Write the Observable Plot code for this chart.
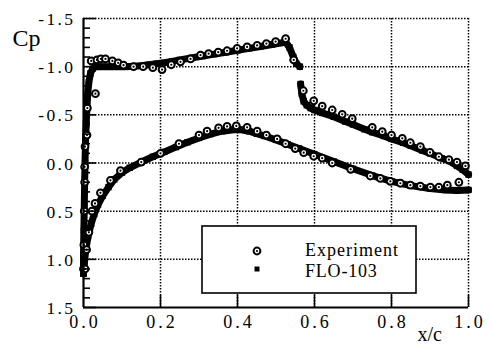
<!DOCTYPE html>
<html>
<head>
<meta charset="utf-8">
<script src="https://cdn.jsdelivr.net/npm/d3@7"></script>
<script src="https://cdn.jsdelivr.net/npm/@observablehq/plot@0.6"></script>
<style>
html, body { margin: 0; padding: 0; background: #fff; }
#chart svg { display: block; }
</style>
</head>
<body>
<div id="chart"></div>
<script>
// ---- axis ticks / labels ----
const xTicks = [0.0, 0.2, 0.4, 0.6, 0.8, 1.0];
const xTickLabels = ["0.0", "0.2", "0.4", "0.6", "0.8", "1.0"];
const yTicks = [-1.5, -1.0, -0.5, 0.0, 0.5, 1.0, 1.5];
const yTickLabels = ["-1.5", "-1.0", "-0.5", "0.0", "0.5", "1.0", "1.5"];
const yMinorTicks = [-1.4, -1.3, -1.2, -1.1, -0.9, -0.8, -0.7, -0.6, -0.4, -0.3, -0.2, -0.1,
                     0.1, 0.2, 0.3, 0.4, 0.6, 0.7, 0.8, 0.9, 1.1, 1.2, 1.3, 1.4];
const xGrid = [0.2, 0.4, 0.6, 0.8, 1.0];
const yGrid = [-1.5, -1.0, -0.5, 0.0, 0.5, 1.0];
const seriesNames = ["Experiment", "FLO-103"];
const yLabel = "Cp";
const xLabel = "x/c";

// ---- Experiment (x/c, Cp) ----
const expUpper = [
  [0.000, 1.10], [0.001, 0.85], [0.002, 0.50], [0.003, 0.20], [0.003, 0.04], [0.004, -0.17],
  [0.009, -0.29], [0.010, -0.57], [0.031, -0.72], [0.020, -1.06], [0.035, -1.07], [0.045, -1.08],
  [0.057, -1.08], [0.075, -1.06], [0.090, -1.04], [0.104, -1.015], [0.130, -1.00], [0.155, -1.00],
  [0.180, -0.99], [0.204, -0.97], [0.228, -1.02], [0.252, -1.05], [0.278, -1.08], [0.304, -1.12],
  [0.325, -1.135], [0.350, -1.15], [0.373, -1.165], [0.399, -1.19], [0.425, -1.205], [0.451, -1.22],
  [0.475, -1.24], [0.499, -1.26], [0.525, -1.29], [0.546, -1.07], [0.571, -0.75], [0.598, -0.645],
  [0.620, -0.59], [0.646, -0.55], [0.672, -0.505], [0.698, -0.46], [0.750, -0.37], [0.776, -0.325],
  [0.800, -0.29], [0.828, -0.256], [0.849, -0.21], [0.875, -0.17], [0.900, -0.11], [0.923, -0.065],
  [0.949, -0.035], [0.970, -0.01], [0.992, 0.03]
];
const expLower = [
  [0.004, 1.10], [0.008, 0.90], [0.014, 0.72], [0.022, 0.50], [0.030, 0.42], [0.044, 0.31],
  [0.070, 0.18], [0.096, 0.08], [0.150, -0.01], [0.200, -0.10], [0.248, -0.20], [0.300, -0.29],
  [0.321, -0.33], [0.351, -0.365], [0.373, -0.38], [0.397, -0.385], [0.425, -0.37], [0.451, -0.33],
  [0.475, -0.29], [0.503, -0.25], [0.525, -0.20], [0.550, -0.15], [0.572, -0.107], [0.598, -0.07],
  [0.620, -0.05], [0.646, 0.00], [0.694, 0.066], [0.745, 0.135], [0.771, 0.16], [0.797, 0.19],
  [0.823, 0.21], [0.849, 0.23], [0.875, 0.24], [0.901, 0.25], [0.923, 0.25], [0.945, 0.23], [0.975, 0.20]
];

// ---- FLO-103 (x/c, Cp) ----
const floUpperFore = [
  [0.000, 1.15], [0.000, 0.95], [0.001, 0.70], [0.002, 0.45], [0.003, 0.20], [0.004, 0.00],
  [0.005, -0.20], [0.007, -0.40], [0.009, -0.58], [0.011, -0.72], [0.014, -0.84], [0.018, -0.93],
  [0.024, -0.98], [0.032, -1.00], [0.050, -1.00], [0.070, -1.00], [0.090, -1.00], [0.110, -1.00],
  [0.130, -1.005], [0.150, -1.01], [0.170, -1.02], [0.190, -1.03], [0.210, -1.04], [0.230, -1.055],
  [0.250, -1.07], [0.280, -1.09], [0.310, -1.11], [0.340, -1.13], [0.370, -1.15], [0.400, -1.17],
  [0.430, -1.19], [0.460, -1.21], [0.490, -1.23], [0.510, -1.245], [0.525, -1.255], [0.535, -1.20],
  [0.545, -1.10], [0.553, -1.03], [0.562, -1.00]
];
const floUpperAft = [
  [0.564, -0.82], [0.567, -0.72], [0.572, -0.64], [0.580, -0.60], [0.590, -0.57], [0.600, -0.55],
  [0.620, -0.52], [0.650, -0.48], [0.680, -0.43], [0.700, -0.40], [0.730, -0.35], [0.750, -0.32],
  [0.780, -0.28], [0.800, -0.25], [0.830, -0.21], [0.850, -0.18], [0.880, -0.13], [0.900, -0.10],
  [0.930, -0.05], [0.950, -0.02], [0.970, 0.03], [0.985, 0.07], [1.000, 0.12]
];
const floLower = [
  [0.000, 1.15], [0.002, 1.05], [0.006, 0.90], [0.012, 0.76], [0.020, 0.63], [0.028, 0.53],
  [0.038, 0.43], [0.050, 0.34], [0.065, 0.25], [0.080, 0.17], [0.100, 0.10], [0.120, 0.05],
  [0.150, -0.01], [0.180, -0.065], [0.210, -0.115], [0.240, -0.165], [0.270, -0.215], [0.300, -0.26],
  [0.330, -0.30], [0.360, -0.33], [0.390, -0.345], [0.410, -0.345], [0.430, -0.33], [0.450, -0.305],
  [0.470, -0.28], [0.500, -0.24], [0.530, -0.195], [0.560, -0.15], [0.600, -0.09], [0.650, -0.015],
  [0.700, 0.06], [0.750, 0.13], [0.800, 0.19], [0.850, 0.235], [0.900, 0.265], [0.940, 0.28],
  [0.970, 0.285], [1.000, 0.28]
];

// ---- tables for Plot ----
const expRows = [...expUpper, ...expLower].map(([x, cp]) => ({x, cp}));
const floRows = [
  ...floUpperFore.map(([x, cp]) => ({x, cp, seg: "upperFore"})),
  ...floUpperAft.map(([x, cp]) => ({x, cp, seg: "upperAft"})),
  ...floLower.map(([x, cp]) => ({x, cp, seg: "lower"}))
];
const xLabelRows = xTicks.map((v, i) => ({v, label: xTickLabels[i]}));
const yLabelRows = yTicks.map((v, i) => ({v, label: yTickLabels[i]}));

const W = 490, H = 345, mL = 83, mR = 22, mT = 18, mB = 38;
const innerW = W - mL - mR, innerH = H - mT - mB;
const serif = "'Liberation Serif', 'Times New Roman', serif";
const dotted = {stroke: "black", strokeWidth: 1.5, strokeDasharray: "1.5,1.5"};

const chart = Plot.plot({
  width: W, height: H,
  marginLeft: mL, marginRight: mR, marginTop: mT, marginBottom: mB,
  style: {background: "#fff", fontFamily: serif, color: "black"},
  x: {domain: [0, 1], axis: null},
  y: {domain: [-1.5, 1.5], reverse: true, axis: null},
  marks: [
    Plot.ruleX(xGrid, dotted),
    Plot.ruleY(yGrid, dotted),
    Plot.line(floRows, {x: "x", y: "cp", z: "seg", stroke: "black", strokeWidth: 7,
                        strokeLinejoin: "round", strokeLinecap: "round"}),
    Plot.dot(floRows, {x: "x", y: "cp", symbol: "square", r: 3.6, fill: "black"}),
    Plot.dot(expRows, {x: "x", y: "cp", r: 3.4, stroke: "black", strokeWidth: 2, fill: "white"}),
    Plot.dot(expRows, {x: "x", y: "cp", r: 1.1, fill: "black"}),
    Plot.ruleX([0], {stroke: "black", strokeWidth: 2.2}),
    Plot.ruleY([1.5], {stroke: "black", strokeWidth: 2.2}),
    Plot.ruleX(xTicks.slice(1), {stroke: "black", strokeWidth: 1.6, insetTop: innerH - 12}),
    Plot.ruleY(yTicks, {stroke: "black", strokeWidth: 1.6, insetRight: innerW - 13}),
    Plot.ruleY(yMinorTicks, {stroke: "black", strokeWidth: 1.6, insetRight: innerW - 7}),
    Plot.text(xLabelRows, {x: "v", text: "label", frameAnchor: "bottom", lineAnchor: "top",
                           dy: 8, dx: 1.5, fontSize: 18, fill: "black"}),
    Plot.text(yLabelRows, {y: "v", text: "label", frameAnchor: "left", textAnchor: "end",
                           dx: -8, dy: 1, fontSize: 17.5, fill: "black"}),
    Plot.text([yLabel], {frameAnchor: "top-left", textAnchor: "start", lineAnchor: "bottom",
                         dx: -71, dy: 27, fontSize: 24, fill: "black"}),
    Plot.text([xLabel], {frameAnchor: "bottom-right", textAnchor: "start", lineAnchor: "bottom",
                         dx: -51, dy: 33, fontSize: 20, fill: "black"})
  ]
});

document.getElementById("chart").append(chart);

// letter spacing of tick labels (typewriter-like spacing of the original)
const svg = d3.select(chart);
const textGroups = svg.selectAll('g[aria-label="text"]').nodes();
if (textGroups[0]) d3.select(textGroups[0]).style("letter-spacing", "3px");
if (textGroups[1]) d3.select(textGroups[1]).style("letter-spacing", "2.4px");

// ---- legend box ----
const lg = svg.append("g").attr("font-family", serif).attr("text-anchor", "start");
lg.append("rect").attr("x", 202).attr("y", 226).attr("width", 214).attr("height", 67)
  .attr("fill", "white").attr("stroke", "black").attr("stroke-width", 1.6);
lg.append("circle").attr("cx", 257).attr("cy", 251).attr("r", 3.4)
  .attr("fill", "white").attr("stroke", "black").attr("stroke-width", 2);
lg.append("circle").attr("cx", 257).attr("cy", 251).attr("r", 1.1).attr("fill", "black");
lg.append("rect").attr("x", 254.5).attr("y", 266.5).attr("width", 5).attr("height", 5).attr("fill", "black");
lg.append("text").attr("x", 305).attr("y", 256).attr("font-size", 18).attr("text-anchor", "start")
  .style("letter-spacing", "1px").attr("fill", "black").text(seriesNames[0]);
lg.append("text").attr("x", 305).attr("y", 276.5).attr("font-size", 18).attr("text-anchor", "start")
  .style("letter-spacing", "0.8px").attr("fill", "black").text(seriesNames[1]);
</script>
</body>
</html>
